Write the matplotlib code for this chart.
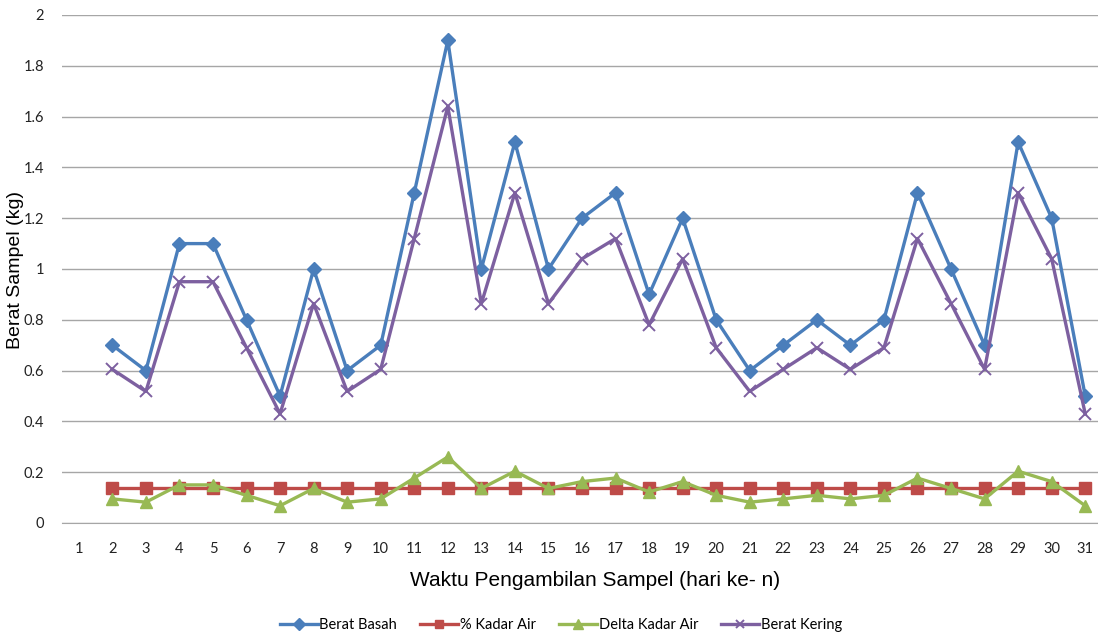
import matplotlib
matplotlib.use("Agg")
import matplotlib.pyplot as plt
import numpy as np

# Data (day 1 has no values)
hari = list(range(2, 32))
berat_basah = [0.7, 0.6, 1.1, 1.1, 0.8, 0.5, 1.0, 0.6, 0.7, 1.3, 1.9, 1.0, 1.5, 1.0,
               1.2, 1.3, 0.9, 1.2, 0.8, 0.6, 0.7, 0.8, 0.7, 0.8, 1.3, 1.0, 0.7, 1.5,
               1.2, 0.5]
kadar_air = [0.136] * 30
delta_kadar_air = [0.095, 0.082, 0.15, 0.15, 0.109, 0.068, 0.136, 0.082, 0.095, 0.177,
                   0.26, 0.136, 0.204, 0.136, 0.163, 0.177, 0.122, 0.163, 0.109, 0.082,
                   0.095, 0.109, 0.095, 0.109, 0.177, 0.136, 0.095, 0.204, 0.163, 0.068]
berat_kering = [0.605, 0.518, 0.95, 0.95, 0.69, 0.43, 0.864, 0.518, 0.605, 1.12,
                1.64, 0.864, 1.30, 0.864, 1.04, 1.12, 0.78, 1.04, 0.69, 0.518,
                0.605, 0.69, 0.605, 0.69, 1.12, 0.864, 0.605, 1.30, 1.04, 0.43]
kategori = list(range(1, 32))
y_ticks = [0, 0.2, 0.4, 0.6, 0.8, 1, 1.2, 1.4, 1.6, 1.8, 2]
y_labels = ['0', '0.2', '0.4', '0.6', '0.8', '1', '1.2', '1.4', '1.6', '1.8', '2']

plt.rcParams['font.family'] = ['Lato', 'DejaVu Sans']

fig = plt.figure(figsize=(10.98, 6.35), dpi=100)
ax = fig.add_axes([62 / 1098, 1 - 523 / 635, 1040 / 1098, 508 / 635])

ax.plot(hari, berat_basah, color='#4A7EBB', lw=2.4, marker='D', ms=7.5,
        label='Berat Basah', zorder=4)
ax.plot(hari, kadar_air, color='#BE4B48', lw=2.4, marker='s', ms=8,
        label='% Kadar Air', zorder=3)
ax.plot(hari, delta_kadar_air, color='#98B954', lw=2.4, marker='^', ms=9,
        label='Delta Kadar Air', zorder=3)
ax.plot(hari, berat_kering, color='#7D60A0', lw=2.4, marker='x', ms=8, mew=1.4,
        label='Berat Kering', zorder=4)

ax.set_xlim(0.5, 31.5)
ax.set_ylim(0, 2)
ax.set_xticks(kategori)
ax.set_xticklabels([str(k) for k in kategori])
ax.set_yticks(y_ticks)
ax.set_yticklabels(y_labels)
ax.tick_params(axis='both', length=0, labelsize=10.5, colors='#222222')
ax.tick_params(axis='x', pad=14)
ax.tick_params(axis='y', pad=13)
ax.grid(axis='y', color='#A6A6A6', lw=1)
ax.set_axisbelow(True)
for s in ['top', 'right', 'left']:
    ax.spines[s].set_visible(False)
ax.spines['bottom'].set_color('#A6A6A6')

fig.text(16 / 1098, 1 - 270 / 635, 'Berat Sampel (kg)', rotation=90,
         ha='center', va='center', fontsize=14, family='Liberation Sans')
fig.text(595 / 1098, 1 - 580 / 635, 'Waktu Pengambilan Sampel (hari ke- n)',
         ha='center', va='center', fontsize=15, family='Liberation Sans')

fig.legend(loc='center', bbox_to_anchor=(561 / 1098, 1 - 625 / 635), ncol=4,
           frameon=False, fontsize=10.5, handlelength=2.6, columnspacing=1.6,
           handletextpad=0.1, markerscale=0.75)

fig.savefig('out.png', dpi=100)
